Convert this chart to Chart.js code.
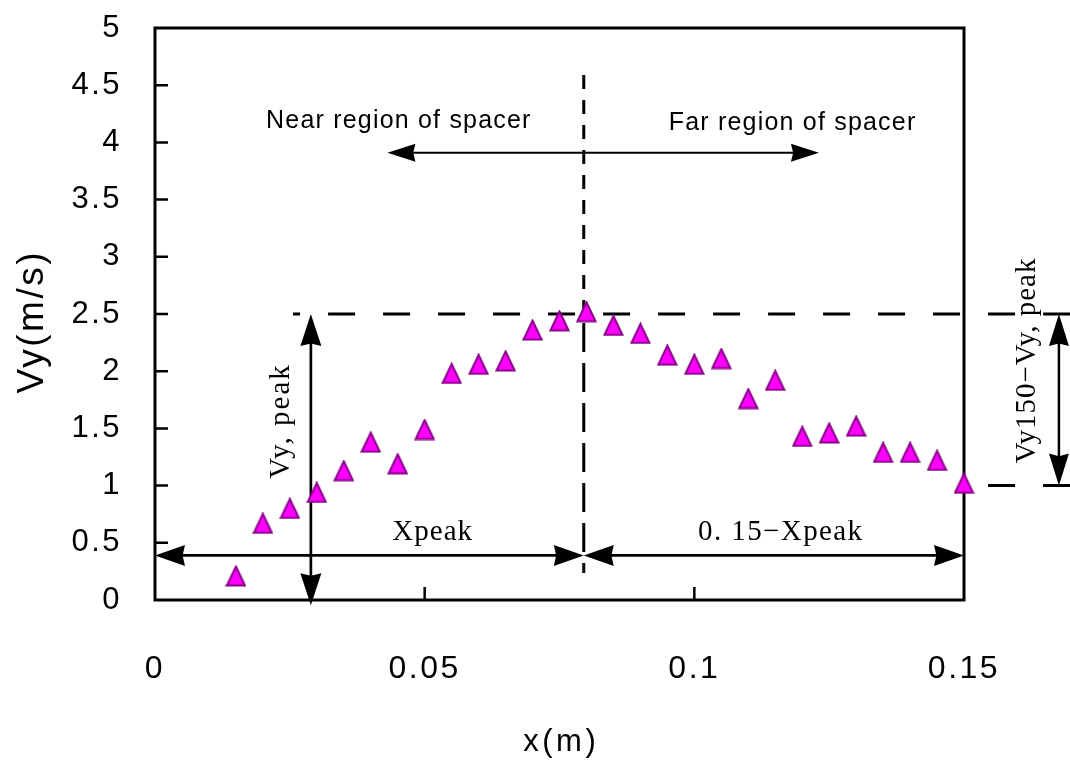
<!DOCTYPE html>
<html>
<head>
<meta charset="utf-8">
<script src="https://cdn.jsdelivr.net/npm/chart.js@4/dist/chart.umd.min.js"></script>
<style>
  html, body { margin: 0; padding: 0; background: #fff; }
  #wrap { width: 1070px; height: 763px; }
</style>
</head>
<body>
<div id="wrap"><canvas id="c" width="1070" height="763"></canvas></div>
<script>
// ---- data ----
const xValues = [0.015, 0.02, 0.025, 0.03, 0.035, 0.04, 0.045, 0.05, 0.055, 0.06, 0.065, 0.07, 0.075, 0.08,
                 0.085, 0.09, 0.095, 0.1, 0.105, 0.11, 0.115, 0.12, 0.125, 0.13, 0.135, 0.14, 0.145, 0.15];
const vyValues = [0.21, 0.67, 0.80, 0.94, 1.13, 1.38, 1.19, 1.49, 1.98, 2.06, 2.09, 2.36, 2.44, 2.52,
                  2.40, 2.33, 2.14, 2.06, 2.11, 1.76, 1.92, 1.43, 1.46, 1.52, 1.29, 1.29, 1.22, 1.02];
const xTicks = [0, 0.05, 0.1, 0.15];
const yTicks = [0, 0.5, 1, 1.5, 2, 2.5, 3, 3.5, 4, 4.5, 5];
const xTitle = 'x(m)';
const yTitle = 'Vy(m/s)';

// ---- annotation settings (data units) ----
const xPeak = 0.0795;
const vyPeakLevel = 2.5;
const vyEndLevel = 1.0;

// triangle marker
function makeTriangle() {
  const c = document.createElement('canvas');
  c.width = 21; c.height = 22;
  const g = c.getContext('2d');
  g.beginPath();
  g.moveTo(10.5, 1.5);
  g.lineTo(19.5, 20.5);
  g.lineTo(1.5, 20.5);
  g.closePath();
  g.fillStyle = '#FF00FF';
  g.fill();
  g.lineWidth = 2;
  g.strokeStyle = '#8B008B';
  g.lineJoin = 'miter';
  g.stroke();
  return c;
}

function head(ctx, tx, ty, dx, dy, len, w) {
  const bx = tx - dx * len, by = ty - dy * len;
  ctx.beginPath();
  ctx.moveTo(tx, ty);
  ctx.lineTo(bx - dy * w / 2, by + dx * w / 2);
  ctx.lineTo(bx + dx * len * 0.08, by + dy * len * 0.08);
  ctx.lineTo(bx + dy * w / 2, by - dx * w / 2);
  ctx.closePath();
  ctx.fill();
}
function dblArrow(ctx, x1, y1, x2, y2, len, w, lw) {
  const L = Math.hypot(x2 - x1, y2 - y1), dx = (x2 - x1) / L, dy = (y2 - y1) / L;
  ctx.setLineDash([]);
  ctx.lineWidth = lw;
  ctx.beginPath();
  ctx.moveTo(x1 + dx * len * 0.7, y1 + dy * len * 0.7);
  ctx.lineTo(x2 - dx * len * 0.7, y2 - dy * len * 0.7);
  ctx.stroke();
  head(ctx, x2, y2, dx, dy, len, w);
  head(ctx, x1, y1, -dx, -dy, len, w);
}
function dashLine(ctx, x1, y1, x2, y2, pattern, offset, lw) {
  ctx.setLineDash(pattern);
  ctx.lineDashOffset = offset;
  ctx.lineWidth = lw;
  ctx.beginPath();
  ctx.moveTo(x1, y1);
  ctx.lineTo(x2, y2);
  ctx.stroke();
  ctx.setLineDash([]);
  ctx.lineDashOffset = 0;
}
function txt(ctx, s, x, y, font, spacing, rot) {
  ctx.save();
  ctx.font = font;
  ctx.letterSpacing = spacing + 'px';
  ctx.fillStyle = '#000';
  ctx.textAlign = 'center';
  ctx.textBaseline = 'middle';
  ctx.translate(x + (rot ? 0 : spacing / 2), y + (rot ? -spacing / 2 : 0));
  if (rot) ctx.rotate(-Math.PI / 2);
  ctx.fillText(s, 0, 0);
  ctx.restore();
}

const spacingPlugin = {
  id: 'spacing',
  beforeDraw(chart) { chart.ctx.letterSpacing = '2.5px'; }
};

const decorPlugin = {
  id: 'decor',
  beforeDatasetsDraw(chart) {
    const { ctx, chartArea: a, scales: { x, y } } = chart;
    const X = v => x.getPixelForValue(v), Y = v => y.getPixelForValue(v);
    ctx.save();
    ctx.letterSpacing = '0px';
    ctx.strokeStyle = '#000';
    ctx.fillStyle = '#000';
    ctx.lineCap = 'butt';

    // inward ticks
    ctx.lineWidth = 2.5;
    ctx.beginPath();
    yTicks.forEach(v => {
      if (v > 0 && v < 5) { ctx.moveTo(a.left, Y(v)); ctx.lineTo(a.left + 13, Y(v)); }
    });
    xTicks.forEach(v => {
      if (v > 0 && v < 0.15) { ctx.moveTo(X(v), a.bottom); ctx.lineTo(X(v), a.bottom - 13); }
    });
    ctx.stroke();

    // frame
    ctx.lineWidth = 3;
    ctx.strokeRect(a.left, a.top, a.right - a.left, a.bottom - a.top);

    // dashed guide lines
    dashLine(ctx, X(0.0256), Y(vyPeakLevel), chart.width, Y(vyPeakLevel), [27, 28], 20, 3);
    dashLine(ctx, X(0.15), Y(vyEndLevel), chart.width, Y(vyEndLevel), [27, 28], 31, 3);
    dashLine(ctx, X(xPeak), Y(4.59), X(xPeak), Y(vyPeakLevel), [14, 11], 0, 3);
    dashLine(ctx, X(xPeak), Y(vyPeakLevel), X(xPeak), Y(0.236), [29, 11], 31, 3);

    // arrows
    dblArrow(ctx, X(0), Y(0.39), X(xPeak), Y(0.39), 30, 21, 2.7);
    dblArrow(ctx, X(xPeak), Y(0.39), X(0.15), Y(0.39), 30, 21, 2.7);
    dblArrow(ctx, X(0.0289), Y(vyPeakLevel), X(0.0289), Y(-0.045), 32, 21, 2.7);
    dblArrow(ctx, X(0.0431), Y(3.91), X(0.1231), Y(3.91), 28, 18, 2);
    dblArrow(ctx, X(0.1676), Y(vyPeakLevel), X(0.1676), Y(vyEndLevel), 32, 20, 2.5);

    // annotation texts
    const sans = '25px "Liberation Sans", Arial, sans-serif';
    const serif = '29px "Liberation Serif", "Times New Roman", serif';
    txt(ctx, 'Near region of spacer', X(0.0451), Y(4.186), sans, 1.2, false);
    txt(ctx, 'Far region of spacer', X(0.1181), Y(4.17), sans, 1.2, false);
    txt(ctx, 'Xpeak', X(0.0514), Y(0.594), serif, 1, false);
    txt(ctx, '0. 15\u2212Xpeak', X(0.1159), Y(0.594), serif, 1.4, false);
    txt(ctx, 'Vy, peak', X(0.0234), Y(1.556), serif, 2, true);
    txt(ctx, 'Vy150\u2212Vy, peak', X(0.1617), Y(2.09), serif, 1, true);

    // axis titles
    txt(ctx, yTitle, 33, 323, '37px "Liberation Sans", Arial, sans-serif', 2.5, true);
    txt(ctx, xTitle, (a.left + a.right) / 2, 742, '31px "Liberation Sans", Arial, sans-serif', 3.5, false);
    ctx.restore();
  }
};

const tri = makeTriangle();

new Chart(document.getElementById('c'), {
  type: 'scatter',
  data: {
    datasets: [{
      data: xValues.map((v, i) => ({ x: v, y: vyValues[i] })),
      pointStyle: tri,
      pointRadius: 10,
      pointHoverRadius: 10,
      showLine: false,
      clip: false
    }]
  },
  options: {
    responsive: false,
    animation: false,
    events: [],
    layout: { padding: { left: 0, right: 106, top: 28, bottom: 0 } },
    plugins: { legend: { display: false }, tooltip: { enabled: false } },
    scales: {
      x: {
        type: 'linear',
        min: 0, max: 0.15,
        afterBuildTicks: s => { s.ticks = xTicks.map(v => ({ value: v })); },
        afterFit: s => { s.height = 163; s.paddingLeft = 0; s.paddingRight = 0; },
        grid: { display: false, drawTicks: false },
        border: { display: false },
        ticks: {
          color: '#000',
          padding: 50,
          maxRotation: 0,
          autoSkip: false,
          font: { family: '"Liberation Sans", Arial, sans-serif', size: 32 },
          callback: v => String(v)
        }
      },
      y: {
        type: 'linear',
        min: 0, max: 5,
        afterBuildTicks: s => { s.ticks = yTicks.map(v => ({ value: v })); },
        afterFit: s => { s.width = 155; s.paddingTop = 0; s.paddingBottom = 0; },
        grid: { display: false, drawTicks: false },
        border: { display: false },
        ticks: {
          color: '#000',
          padding: 33,
          autoSkip: false,
          font: { family: '"Liberation Sans", Arial, sans-serif', size: 31 },
          callback: v => String(v)
        }
      }
    }
  },
  plugins: [spacingPlugin, decorPlugin]
});
</script>
</body>
</html>
